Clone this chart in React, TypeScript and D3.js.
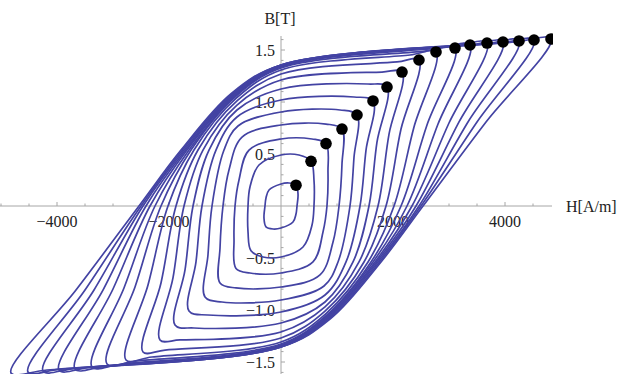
import React, { useEffect, useRef } from "react";
import * as d3 from "d3";

// tips of the loops (black dots), H in A/m, B in T
const tipH = [268, 536, 804, 1089, 1357, 1643, 1893, 2161, 2464, 2768, 3107, 3375, 3679, 3964, 4250, 4518, 4821];
const tipB = [0.2, 0.43, 0.6, 0.74, 0.875, 1.01, 1.144, 1.288, 1.404, 1.481, 1.519, 1.548, 1.567, 1.577, 1.587, 1.596, 1.606];
// descending branch, read point by point from the tip down to the lower left
// just left of the tip
const nearH = [143, 321, 554, 804, 1054, 1304, 1554, 1804, 2071, 2304, 2571, 2839, 3107, 3375, 3643, 3911, 4179];
const nearB = [0.221, 0.49, 0.644, 0.788, 0.923, 1.048, 1.173, 1.288, 1.385, 1.452, 1.49, 1.519, 1.538, 1.548, 1.558, 1.567, 1.577];
// remanence (B where the branch meets H = 0)
const remB = [0.212, 0.49, 0.644, 0.779, 0.904, 1.019, 1.125, 1.212, 1.269, 1.308, 1.327, 1.337, 1.346, 1.346, 1.356, 1.356, 1.356];
// upper-left knee
const kneeH = [-214, -393, -571, -696, -768, -786, -786, -786, -786, -804, -821, -832, -843, -854, -864, -875, -886];
const kneeB = [0.154, 0.394, 0.538, 0.663, 0.769, 0.856, 0.923, 0.971, 1.01, 1.034, 1.048, 1.054, 1.06, 1.065, 1.071, 1.077, 1.083];
// left side, above the H axis
const sideH = [-268, -554, -750, -929, -1018, -1161, -1286, -1393, -1482, -1554, -1607, -1643, -1679, -1705, -1732, -1759, -1786];
const sideB = [0.077, 0.183, 0.25, 0.346, 0.538, 0.538, 0.538, 0.538, 0.538, 0.538, 0.538, 0.538, 0.538, 0.538, 0.538, 0.538, 0.538];
// coercive field (B = 0 crossing)
const coerH = [286, 589, 821, 1036, 1232, 1411, 1571, 1732, 1875, 2018, 2143, 2250, 2339, 2411, 2464, 2500, 2536];
// left side, below the H axis
const lowH = [-304, -589, -839, -1089, -1304, -1518, -1714, -1929, -2143, -2375, -2607, -2804, -3000, -3179, -3339, -3500, -3661];
const lowB = [-0.115, -0.25, -0.327, -0.404, -0.471, -0.538, -0.615, -0.692, -0.74, -0.76, -0.779, -0.788, -0.798, -0.808, -0.808, -0.808, -0.808];

const xTicks = [-4000, -2000, 2000, 4000];
const yTicks = [-1.5, -1.0, -0.5, 0.5, 1.0, 1.5];

const W = 622;
const H = 374;
const lineColor = "#4343a3";
const axisColor = "#a6a6a6";
const font = "'Liberation Serif', 'Times New Roman', serif";

const fmt = (v: number, digits: number) =>
  (v < 0 ? "\u2212" : "") + Math.abs(v).toFixed(digits);

export default function App() {
  const svgRef = useRef<SVGSVGElement>(null);

  useEffect(() => {
    const svg = d3.select(svgRef.current);
    svg.selectAll("*").remove();

    const x = d3.scaleLinear().domain([-4000, 4000]).range([57, 505]);
    const y = d3.scaleLinear().domain([-1.5, 1.5]).range([362, 50]);
    const x0 = x(0);
    const y0 = y(0);

    svg
      .append("defs")
      .append("clipPath")
      .attr("id", "plotclip")
      .append("rect")
      .attr("x", 0)
      .attr("y", 0)
      .attr("width", 553)
      .attr("height", H);

    // axes
    const ax = svg.append("g").attr("stroke", axisColor).attr("stroke-width", 1);
    ax.append("line").attr("x1", 0).attr("x2", 552).attr("y1", y0).attr("y2", y0);
    ax.append("line").attr("x1", x0).attr("x2", x0).attr("y1", 36).attr("y2", H);

    const xMinor = d3.range(-5000, 4501, 500).filter((v) => v !== 0 && !xTicks.includes(v));
    ax.selectAll("line.xmaj")
      .data(xTicks)
      .join("line")
      .attr("class", "xmaj")
      .attr("x1", (d) => x(d))
      .attr("x2", (d) => x(d))
      .attr("y1", y0)
      .attr("y2", y0 - 4);
    ax.selectAll("line.xmin")
      .data(xMinor)
      .join("line")
      .attr("class", "xmin")
      .attr("x1", (d) => x(d))
      .attr("x2", (d) => x(d))
      .attr("y1", y0)
      .attr("y2", y0 - 2.5);

    const yMinor = d3
      .range(-16, 17)
      .map((v) => v / 10)
      .filter((v) => v !== 0 && !yTicks.some((t) => Math.abs(t - v) < 1e-9));
    ax.selectAll("line.ymaj")
      .data(yTicks)
      .join("line")
      .attr("class", "ymaj")
      .attr("x1", x0)
      .attr("x2", x0 + 4)
      .attr("y1", (d) => y(d))
      .attr("y2", (d) => y(d));
    ax.selectAll("line.ymin")
      .data(yMinor)
      .join("line")
      .attr("class", "ymin")
      .attr("x1", x0)
      .attr("x2", x0 + 2.5)
      .attr("y1", (d) => y(d))
      .attr("y2", (d) => y(d));

    // tick labels and axis titles
    const lab = svg.append("g").attr("font-family", font).attr("font-size", 16).attr("fill", "#222");
    lab.selectAll("text.xl")
      .data(xTicks)
      .join("text")
      .attr("class", "xl")
      .attr("x", (d) => x(d))
      .attr("y", y0 + 21)
      .attr("text-anchor", "middle")
      .text((d) => fmt(d, 0));
    lab.selectAll("text.yl")
      .data(yTicks)
      .join("text")
      .attr("class", "yl")
      .attr("x", x0 - 6)
      .attr("y", (d) => y(d) + 5.5)
      .attr("text-anchor", "end")
      .text((d) => fmt(d, 1));
    lab.append("text").attr("x", 280).attr("y", 24).attr("text-anchor", "middle").text("B[T]");
    lab.append("text").attr("x", 566).attr("y", y0 + 6).text("H[A/m]");

    // hysteresis loops: descending branch, then its point reflection
    const loops = tipH.map((_, i) => {
      const desc: [number, number][] = [
        [tipH[i], tipB[i]],
        [nearH[i], nearB[i]],
        [0, remB[i]],
        [kneeH[i], kneeB[i]],
        [sideH[i], sideB[i]],
        [-coerH[i], 0],
        [lowH[i], lowB[i]],
      ];
      const asc = desc.map(([h, b]) => [-h, -b] as [number, number]);
      return [...desc, ...asc];
    });

    const line = d3
      .line<[number, number]>()
      .x((d) => x(d[0]))
      .y((d) => y(d[1]))
      .curve(d3.curveCatmullRomClosed.alpha(0.5));

    const plot = svg.append("g").attr("clip-path", "url(#plotclip)");
    plot
      .selectAll("path")
      .data(loops)
      .join("path")
      .attr("d", (d) => line(d))
      .attr("fill", "none")
      .attr("stroke", lineColor)
      .attr("stroke-width", 1.7);

    plot
      .selectAll("circle")
      .data(tipH)
      .join("circle")
      .attr("cx", (d) => x(d))
      .attr("cy", (_, i) => y(tipB[i]))
      .attr("r", 5.8)
      .attr("fill", "#000");
  }, []);

  return (
    <svg
      ref={svgRef}
      width={W}
      height={H}
      style={{ position: "absolute", left: 0, top: 0, background: "#fff" }}
    />
  );
}
